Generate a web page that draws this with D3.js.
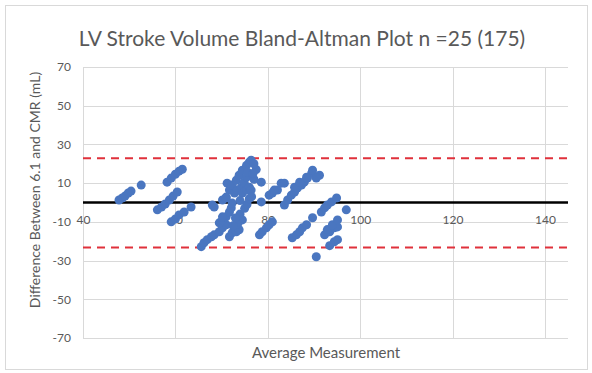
<!DOCTYPE html>
<html>
<head>
<meta charset="utf-8">
<script src="https://cdn.jsdelivr.net/npm/d3@7"></script>
<style>
  html, body { margin: 0; padding: 0; background: #fff; }
  svg { display: block; }
  text { font-family: Lato, "Open Sans", sans-serif; fill: #595959; }
</style>
</head>
<body>
<script>
// Bland-Altman: mean of the two methods vs. their difference
const avgValues = [
  47.8, 48.5, 49.1, 49.8, 50.4, 52.6,
  58.2, 59.1, 60.0, 60.8, 61.5,
  56.1, 57.0, 57.8, 58.7, 59.5, 60.4,
  59.1, 60.0, 60.8, 61.9, 63.4,
  65.6, 66.2, 66.9, 67.8, 68.4, 69.5, 70.2, 71.0,
  71.7, 72.3, 73.2, 73.8,
  69.5, 70.2, 71.0, 71.7, 72.1, 72.3, 70.2, 68.0,
  71.0, 71.7, 71.2, 72.3, 73.2, 73.8, 74.5, 75.4, 76.0, 76.4,
  72.8, 73.4, 74.3, 74.9, 75.4, 75.6, 74.5, 75.4, 76.0, 76.4,
  78.6, 78.6, 81.0, 82.1,
  78.2, 78.8, 79.7, 80.3, 81.0,
  74.0, 74.5, 73.5, 75.0, 75.5, 76.0, 74.0, 73.0, 72.5, 76.5, 77.0, 77.5, 77.0, 76.8,
  68.4, 70.2, 71.0,
  80.3, 81.4, 82.9, 83.6, 83.6, 84.3, 85.1, 85.8, 86.4, 87.3, 87.9, 88.6, 89.5, 89.7,
  85.8, 86.9, 88.4, 91.2, 90.5,
  85.3, 86.2, 86.9, 87.5, 88.4, 89.7,
  91.6, 92.3, 92.9, 93.8, 94.9,
  97.0,
  92.3, 93.4, 94.4, 95.1,
  92.9, 94.0, 95.1,
  93.4, 94.4, 95.1, 90.5
];
const diffValues = [
  1.3, 2.3, 3.3, 4.9, 5.9, 9.0,
  10.5, 12.6, 14.6, 16.2, 17.2,
  -3.8, -2.3, -0.8, 1.3, 3.3, 5.4,
  -10.0, -8.5, -6.4, -4.9, -2.3,
  -22.8, -20.8, -19.2, -17.7, -16.7, -15.1, -13.1, -11.5,
  -17.7, -15.6, -15.1, -14.1,
  -10.5, -9.0, -7.4, -4.9, -2.8, -0.3, 1.3, -1.3,
  2.8, 6.4, 10.0, 9.0, 11.5, 14.1, 16.7, 19.2, 20.8, 21.8,
  4.9, 6.4, 7.9, 10.5, 13.1, 15.6, 4.9, 6.4, 7.9, 6.4,
  10.5, 0.3, 4.9, 6.4,
  -16.7, -15.1, -13.1, -11.5, -10.0,
  -6.0, -9.0, -11.0, -3.0, -1.0, 2.0, 1.0, -8.0, -12.0, 3.0, 12.0, 17.0, 20.0, 15.0,
  -2.3, -7.4, 2.3,
  3.8, 6.4, 10.0, 10.0, -1.3, 1.3, 3.8, 5.4, 7.4, 9.0, 10.5, 12.6, 15.1, 16.7,
  7.9, 10.5, 13.1, 14.1, 12.6,
  -18.2, -16.7, -15.1, -13.1, -11.5, -7.9,
  -4.9, -2.8, -1.3, 0.3, 2.3,
  -3.8,
  -16.7, -15.1, -13.1, -12.6,
  -14.0, -11.5, -9.0,
  -22.3, -20.3, -19.2, -28.0
];
const meanDiff = 0;
const upperLoA = 22.8;
const lowerLoA = -23.3;
const xTicks = [40, 60, 80, 100, 120, 140];
const yTicks = [70, 50, 30, 10, -10, -30, -50, -70];

const chartTitle = "LV Stroke Volume Bland-Altman Plot n =25 (175)";
const xTitle = "Average Measurement";
const yTitle = "Difference Between 6.1 and CMR (mL)";

const W = 592, H = 373;
const svg = d3.select("body").append("svg").attr("width", W).attr("height", H);

// chart frame
svg.append("rect").attr("x", 5.5).attr("y", 5.5).attr("width", 582).attr("height", 364)
  .attr("fill", "#fff").attr("stroke", "#d9d9d9");

const x = d3.scaleLinear().domain([40, 145]).range([83, 568]);
const y = d3.scaleLinear().domain([-70, 70]).range([338, 67]);

// gridlines
const grid = svg.append("g");
grid.selectAll(".hg").data(yTicks).join("line")
  .attr("x1", x(40)).attr("x2", x(145))
  .attr("y1", d => Math.round(y(d)) + 0.5).attr("y2", d => Math.round(y(d)) + 0.5)
  .attr("stroke", "#d9d9d9").attr("stroke-width", 1);
grid.selectAll(".vg").data(xTicks).join("line")
  .attr("y1", y(70)).attr("y2", y(-70))
  .attr("x1", d => Math.round(x(d)) + 0.5).attr("x2", d => Math.round(x(d)) + 0.5)
  .attr("stroke", "#d9d9d9").attr("stroke-width", 1);

const plainNum = d => String(d);

// y tick labels
const yAxis = d3.axisLeft(y).tickValues(yTicks).tickSize(0).tickPadding(0).tickFormat(plainNum);
const gy = svg.append("g").attr("transform", "translate(71,0)").call(yAxis);
gy.select(".domain").remove();
gy.selectAll("text").style("font-family", "Lato, sans-serif").style("font-size", "12px").attr("fill", "#6a6a6a");

// x tick labels, placed along the -10 row
const xAxis = d3.axisBottom(x).tickValues(xTicks).tickSize(0).tickPadding(0).tickFormat(plainNum);
const gx = svg.append("g").attr("transform", `translate(0,${y(-10) - 6})`).call(xAxis);
gx.select(".domain").remove();
gx.selectAll("text").style("font-family", "Lato, sans-serif").style("font-size", "12px").attr("fill", "#6a6a6a");

// mean difference and limits of agreement
svg.append("line").attr("x1", x(40)).attr("x2", x(145))
  .attr("y1", y(meanDiff)).attr("y2", y(meanDiff))
  .attr("stroke", "#000").attr("stroke-width", 2.5);
[upperLoA, lowerLoA].forEach(v => {
  svg.append("line").attr("x1", x(40)).attr("x2", x(145))
    .attr("y1", y(v)).attr("y2", y(v))
    .attr("stroke", "#e0313b").attr("stroke-width", 2)
    .attr("stroke-dasharray", "8,6");
});

// points
const pts = avgValues.map((a, i) => ({ a, d: diffValues[i] }));
svg.append("g").selectAll("circle").data(pts).join("circle")
  .attr("cx", p => x(p.a)).attr("cy", p => y(p.d)).attr("r", 4.5)
  .attr("fill", "#4a76c0");

// titles
svg.append("text").attr("x", 302).attr("y", 46).attr("text-anchor", "middle")
  .style("font-size", "21px").text(chartTitle);
svg.append("text").attr("x", 326).attr("y", 358).attr("text-anchor", "middle")
  .style("font-size", "15px").text(xTitle);
svg.append("text").attr("transform", "translate(40,190) rotate(-90)").attr("text-anchor", "middle")
  .style("font-size", "14px").text(yTitle);
</script>
</body>
</html>
